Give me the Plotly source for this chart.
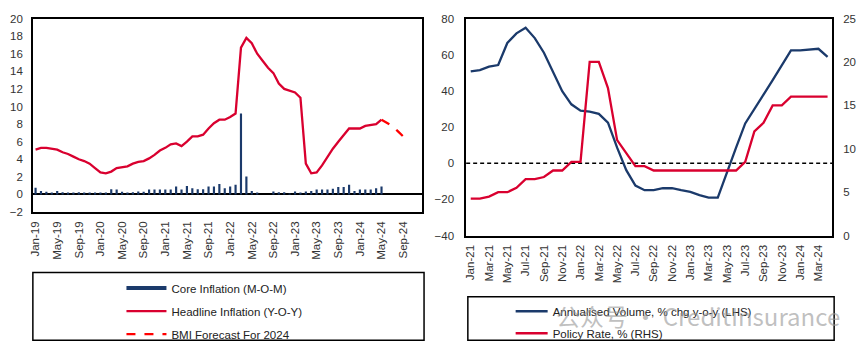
import plotly.graph_objects as go

W, H = 865, 353
FONT = "Liberation Sans, Arial, sans-serif"
NAVY = "#1B3A6B"
RED = "#D9002F"
FRED = "#FF0000"
TXT = "#333333"

# ---------------- Left chart data ----------------
mon = ["Jan", "Feb", "Mar", "Apr", "May", "Jun", "Jul", "Aug", "Sep", "Oct", "Nov", "Dec"]
left_cats = [f"{m}-{y}" for y in range(19, 25) for m in mon]          # Jan-19 .. Dec-24
left_ticks = left_cats[0:69:4]                                          # Jan-19 .. Sep-24

hist_months = left_cats[:65]                                            # Jan-19 .. May-24
headline = [5.1, 5.3, 5.3, 5.2, 5.1, 4.8, 4.6, 4.3, 4.0, 3.8, 3.5, 3.0,
            2.5, 2.4, 2.6, 3.0, 3.1, 3.2, 3.5, 3.7, 3.8, 4.1, 4.5, 5.0,
            5.3, 5.7, 5.8, 5.5, 6.0, 6.6, 6.6, 6.8, 7.5, 8.1, 8.5, 8.5,
            8.8, 9.2, 16.7, 17.8, 17.2, 16.0, 15.2, 14.4, 13.8, 12.6, 12.0, 11.8,
            11.6, 11.0, 3.5, 2.4, 2.5, 3.3, 4.3, 5.2, 6.0, 6.8, 7.5, 7.5,
            7.5, 7.8, 7.9, 8.0, 8.5]
core = [0.75, 0.4, 0.3, 0.15, 0.4, 0.25, 0.2, 0.2, 0.25, 0.2, 0.2, 0.2,
        0.2, 0.2, 0.6, 0.55, 0.3, 0.15, 0.25, 0.35, 0.3, 0.55, 0.55, 0.55,
        0.55, 0.55, 0.9, 0.55, 0.95, 0.7, 0.6, 0.6, 0.9, 0.9, 1.2, 0.7,
        0.9, 1.1, 9.2, 2.05, 0.4, 0.2, 0.0, 0.0, 0.35, 0.25, 0.25, 0.05,
        0.35, 0.2, 0.35, 0.4, 0.55, 0.55, 0.55, 0.65, 0.85, 0.85, 1.1, 0.4,
        0.55, 0.55, 0.55, 0.7, 0.9]
fc_months = left_cats[64:70]                                            # May-24 .. Oct-24
forecast = [8.5, 8.1, 7.8, 7.2, 6.6, 6.0]

# ---------------- Right chart data ----------------
right_cats = [f"{m}-{y}" for y in range(21, 25) for m in mon][:40]     # Jan-21 .. Apr-24
right_ticks = right_cats[0:40:2]
volume = [50.8, 51.5, 53.4, 54.3, 66.5, 71.8, 74.9, 69.2, 61.1, 50.5, 39.8, 32.6,
          29.1, 28.6, 27.3, 22.5, 8.6, -3.8, -12.3, -14.9, -14.9, -13.8, -13.8, -14.9,
          -15.8, -17.6, -19.0, -19.0, -4.7, 8.6, 22.0, 30.3, 38.0, 46.0, 54.0, 62.4,
          62.4, 62.9, 63.3, 58.8]
policy = [4.25, 4.25, 4.5, 5.0, 5.0, 5.5, 6.5, 6.5, 6.75, 7.5, 7.5, 8.5,
          8.5, 20.0, 20.0, 17.0, 11.0, 9.5, 8.0, 8.0, 7.5, 7.5, 7.5, 7.5,
          7.5, 7.5, 7.5, 7.5, 7.5, 7.5, 8.5, 12.0, 13.0, 15.0, 15.0, 16.0,
          16.0, 16.0, 16.0, 16.0]

fig = go.Figure()

# Left chart traces
fig.add_trace(go.Bar(x=hist_months, y=core, marker=dict(color=NAVY, line=dict(width=0)),
                     xaxis="x", yaxis="y", showlegend=False, width=0.4))
fig.add_trace(go.Scatter(x=[None], y=[None], mode="lines", name="Core Inflation (M-O-M)",
                         line=dict(color=NAVY, width=4), xaxis="x", yaxis="y",
                         legend="legend", legendgroup="a"))
fig.add_trace(go.Scatter(x=hist_months, y=headline, mode="lines", name="Headline Inflation (Y-O-Y)",
                         line=dict(color=RED, width=2.3), xaxis="x", yaxis="y",
                         legend="legend", legendgroup="b"))
fig.add_trace(go.Scatter(x=fc_months, y=forecast, mode="lines", name="BMI Forecast For 2024",
                         line=dict(color=FRED, width=2.3, dash="9px,9px"), xaxis="x", yaxis="y",
                         legend="legend", legendgroup="c"))

# Right chart traces
fig.add_trace(go.Scatter(x=right_cats, y=volume, mode="lines", name="Annualised Volume, % chg y-o-y (LHS)",
                         line=dict(color=NAVY, width=2.3), xaxis="x2", yaxis="y3",
                         legend="legend2", legendgroup="d"))
fig.add_trace(go.Scatter(x=right_cats, y=policy, mode="lines", name="Policy Rate, % (RHS)",
                         line=dict(color=RED, width=2.3), xaxis="x2", yaxis="y4",
                         legend="legend2", legendgroup="e"))

def px_x(v):
    return v / W

def px_y(v):
    return 1 - v / H

axis_common = dict(showline=True, linecolor="black", linewidth=1.5, mirror=True,
                   showgrid=False, ticks="", tickfont=dict(family=FONT, size=11.5, color=TXT))

fig.update_layout(
    width=W, height=H, margin=dict(l=0, r=0, t=0, b=0),
    paper_bgcolor="white", plot_bgcolor="white",
    font=dict(family=FONT, size=11, color=TXT),
    bargap=0.6,
    xaxis=dict(domain=[px_x(29), px_x(420)], anchor="y", type="category",
               categoryorder="array", categoryarray=left_cats, range=[-0.5, 71.5],
               tickmode="array", tickvals=left_ticks, ticktext=left_ticks, tickangle=-90,
               zeroline=False, ticklabelstandoff=3, **axis_common),
    yaxis=dict(domain=[px_y(213.3), px_y(13)], anchor="x", range=[-2, 20], dtick=2,
               zeroline=True, zerolinecolor="black", zerolinewidth=1.5,
               ticklabelstandoff=6, **axis_common),
    xaxis2=dict(domain=[px_x(464.3), px_x(832)], anchor="y3", type="category",
                categoryorder="array", categoryarray=right_cats, range=[-0.5, 39.5],
                tickmode="array", tickvals=right_ticks, ticktext=right_ticks, tickangle=-90,
                zeroline=False, ticklabelstandoff=3, **axis_common),
    yaxis3=dict(domain=[px_y(237.7), px_y(13)], anchor="x2", range=[-40, 80], dtick=20,
                zeroline=False, ticklabelstandoff=8, **axis_common),
    yaxis4=dict(domain=[px_y(237.7), px_y(13)], anchor="x2", overlaying="y3", side="right",
                range=[0, 25], dtick=5, showline=False, showgrid=False, zeroline=False, ticks="",
                tickfont=dict(family=FONT, size=11.5, color=TXT), ticklabelstandoff=10),
    legend=dict(x=px_x(118), y=px_y(277), xanchor="left", yanchor="top",
                bgcolor="rgba(0,0,0,0)", borderwidth=0, traceorder="grouped",
                itemwidth=40, tracegroupgap=4,
                font=dict(family=FONT, size=11.5, color="#222222")),
    legend2=dict(x=px_x(509), y=px_y(301), xanchor="left", yanchor="top",
                 bgcolor="rgba(0,0,0,0)", borderwidth=0, traceorder="grouped",
                 itemwidth=32, tracegroupgap=3,
                 font=dict(family=FONT, size=11.5, color="#222222")),
    shapes=[
        dict(type="line", xref="x2 domain", yref="y3", x0=0, x1=1, y0=0, y1=0,
             line=dict(color="black", width=1.5, dash="4px,3px"), layer="below"),
        dict(type="rect", xref="paper", yref="paper", x0=px_x(29), x1=px_x(422),
             y0=px_y(346), y1=px_y(276), line=dict(color="black", width=1.5)),
        dict(type="rect", xref="paper", yref="paper", x0=px_x(466), x1=px_x(834),
             y0=px_y(346), y1=px_y(301), line=dict(color="black", width=1.5)),
    ],
    annotations=[
        dict(text="公众号 · CreditInsurance", xref="paper", yref="paper",
             x=px_x(553), y=px_y(320), xanchor="left", yanchor="middle", showarrow=False,
             font=dict(family="Noto Sans CJK SC, Lato, sans-serif", size=24,
                       color="rgba(150,150,150,0.6)")),
    ],
)

fig.write_html("out.html")
